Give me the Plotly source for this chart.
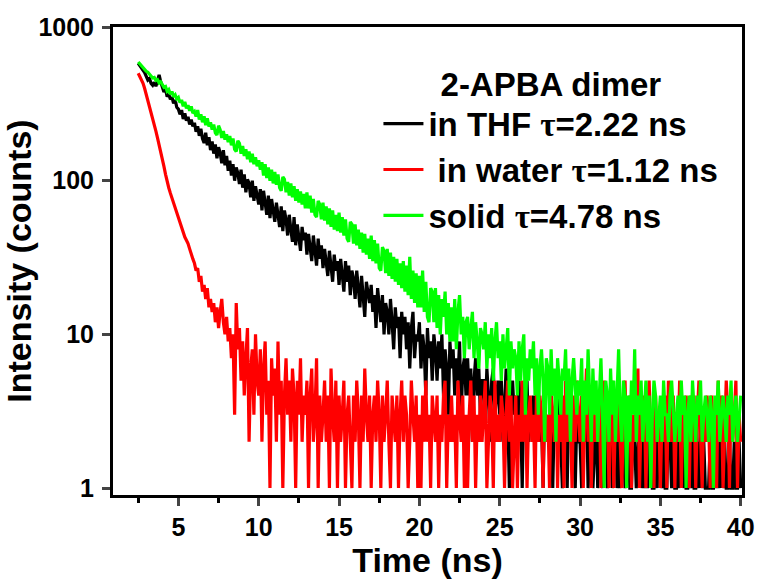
import plotly.graph_objects as go

# Time axis: channel start and width (ns)
t_start = 2.5
t_step = 0.1

# Photon counts (one value per 0.1 ns channel, from 2.5 ns to 40 ns)
thf_counts = [
    580, 562, 548, 522, 505,
    478, 452, 462, 430, 418, 436, 412, 445, 488, 440,
    402, 378, 392, 352, 366, 338, 350, 318, 336, 300,
    292, 270, 288, 252, 274, 246, 260, 232, 250, 226,
    238, 208, 226, 196, 218, 188, 176, 205, 170, 192,
    158, 180, 150, 172, 140, 165, 152, 130, 158, 126,
    145, 116, 135, 108, 128, 100, 122, 112, 95, 118,
    90, 110, 84, 102, 96, 78, 100, 74, 92, 82,
    70, 88, 64, 86, 72, 60, 80, 57, 76, 66,
    54, 72, 60, 50, 68, 47, 64, 56, 44, 60,
    48, 40, 58, 38, 52, 44, 35, 50, 41, 46,
    33, 45, 38, 30, 44, 34, 28, 42, 31, 38,
    27, 36, 30, 24, 35, 28, 22, 33, 26, 30,
    21, 31, 25, 19, 30, 22, 28, 18, 26, 23,
    17, 26, 20, 15, 24, 18, 13, 22, 19, 16,
    21, 14, 18, 11, 20, 15, 12, 18, 10, 16,
    14, 10, 17, 12, 8, 15, 11, 13, 7, 14,
    10, 13, 8, 12, 6, 11, 14, 7, 10, 9,
    12, 6, 10, 8, 4, 11, 7, 9, 5, 10,
    8, 5, 9, 6, 10, 4, 8, 6, 3, 9,
    6, 8, 4, 7, 5, 9, 3, 6, 7, 4,
    7, 4, 6, 2, 5, 7, 4, 6, 3, 5,
    5, 3, 6, 4, 2, 5, 6, 3, 4, 5,
    3, 5, 2, 4, 6, 3, 1, 4, 5, 3,
    4, 2, 5, 3, 1, 4, 3, 5, 2, 3,
    3, 4, 2, 3, 5, 2, 3, 1, 4, 2,
    3, 2, 4, 1, 3, 2, 3, 4, 2, 1,
    2, 3, 1, 4, 2, 3, 2, 1, 3, 2,
    2, 1, 3, 2, 4, 1, 2, 3, 1, 2,
    3, 1, 2, 2, 1, 3, 2, 1, 2, 4,
    1, 2, 3, 1, 2, 1, 3, 2, 1, 2,
    2, 1, 1, 3, 2, 1, 2, 3, 1, 2,
    1, 2, 1, 2, 3, 1, 1, 2, 1, 3,
    2, 1, 2, 1, 1, 3, 2, 1, 2, 1,
    1, 2, 1, 3, 1, 2, 1, 1, 2, 1,
    2, 1, 1, 2, 1, 3, 1, 2, 1, 1,
    1, 2, 1, 1, 2, 1, 2, 1, 3, 1,
    2, 1, 1, 2, 1, 1, 2, 1, 1, 2,
    1,
]

water_counts = [
    500, 478, 452, 430, 398,
    365, 335, 305, 280, 255, 232, 210, 190, 172, 156,
    140, 124, 110, 98, 90, 83, 77, 71, 66, 61,
    57, 53, 49, 46, 43, 41, 39, 36, 33, 31,
    29, 26, 27, 22, 24, 19, 21, 17, 20, 15,
    17, 14, 16, 12, 15, 11, 14, 17, 12, 10,
    13, 9, 11, 7, 10, 3, 16, 8, 11, 5,
    9, 4, 7, 11, 2, 6, 8, 3, 10, 5,
    4, 8, 2, 6, 9, 3, 5, 1, 7, 4,
    6, 2, 9, 3, 5, 1, 4, 7, 3, 5,
    2, 6, 4, 1, 5, 3, 7, 2, 4, 3,
    5, 1, 4, 6, 2, 3, 7, 1, 4, 2,
    3, 5, 2, 4, 1, 6, 3, 2, 5, 1,
    4, 2, 3, 5, 1, 3, 4, 2, 1, 4,
    2, 5, 3, 1, 4, 2, 6, 3, 2, 4,
    1, 3, 4, 2, 5, 3, 1, 4, 2, 3,
    5, 2, 1, 4, 3, 2, 4, 1, 3, 5,
    2, 4, 3, 1, 2, 5, 3, 2, 4, 1,
    3, 1, 4, 2, 5, 2, 3, 1, 4, 3,
    2, 4, 1, 3, 2, 4, 5, 1, 3, 2,
    4, 2, 3, 1, 5, 3, 2, 4, 1, 3,
    1, 3, 5, 2, 4, 1, 3, 2, 4, 2,
    3, 5, 1, 2, 4, 3, 1, 5, 2, 3,
    2, 4, 3, 1, 3, 5, 2, 4, 1, 2,
    4, 1, 3, 2, 5, 2, 4, 1, 3, 4,
    2, 3, 1, 5, 2, 4, 3, 1, 4, 2,
    3, 1, 4, 3, 2, 5, 1, 3, 2, 4,
    1, 5, 2, 4, 3, 1, 4, 2, 5, 3,
    2, 4, 1, 3, 6, 2, 3, 1, 4, 2,
    3, 2, 4, 1, 3, 5, 2, 4, 1, 3,
    5, 1, 3, 2, 4, 2, 1, 3, 5, 2,
    2, 4, 1, 3, 2, 4, 6, 1, 3, 2,
    4, 1, 3, 5, 2, 3, 1, 4, 2, 3,
    1, 3, 2, 4, 1, 5, 3, 2, 4, 1,
    3, 2, 5, 1, 3, 2, 4, 3, 1, 4,
    2, 4, 1, 3, 5, 2, 1, 3, 2, 4,
    3, 1, 4, 2, 3, 1, 5, 2, 4, 1,
    2, 5, 3, 1, 4, 2, 3, 5, 1, 3,
    2,
]

solid_counts = [
    592, 575, 552, 545, 528,
    515, 508, 492, 485, 466, 470, 450, 455, 432, 440,
    418, 405, 410, 382, 392, 365, 380, 352, 362, 340,
    348, 322, 335, 305, 325, 296, 310, 285, 305, 275,
    282, 262, 288, 250, 270, 240, 262, 230, 255, 225,
    240, 215, 232, 205, 198, 228, 215, 190, 210, 185,
    200, 178, 195, 170, 188, 160, 155, 182, 175, 150,
    168, 145, 160, 138, 155, 132, 150, 128, 142, 124,
    136, 118, 132, 108, 128, 104, 122, 100, 118, 96,
    114, 94, 110, 90, 86, 106, 102, 84, 98, 80,
    96, 78, 92, 74, 88, 72, 85, 70, 82, 66,
    84, 66, 80, 62, 76, 60, 58, 74, 70, 56,
    72, 55, 68, 52, 66, 50, 64, 48, 60, 47,
    62, 46, 58, 44, 56, 42, 40, 54, 52, 39,
    52, 38, 48, 36, 46, 34, 45, 33, 42, 31,
    44, 30, 41, 29, 39, 27, 26, 37, 35, 25,
    36, 24, 34, 23, 32, 22, 31, 21, 29, 20,
    30, 19, 28, 18, 32, 17, 26, 16, 25, 15,
    24, 15, 26, 14, 22, 13, 12, 20, 19, 12,
    20, 11, 18, 10, 17, 13, 19, 10, 16, 9,
    15, 9, 17, 8, 14, 18, 10, 13, 7, 12,
    13, 8, 11, 14, 7, 12, 9, 6, 11, 10,
    8, 12, 6, 10, 7, 11, 5, 9, 12, 7,
    9, 5, 10, 6, 8, 11, 4, 9, 6, 8,
    7, 4, 9, 5, 8, 10, 3, 7, 5, 8,
    6, 9, 4, 7, 3, 6, 8, 5, 2, 7,
    6, 3, 8, 4, 6, 2, 7, 5, 3, 6,
    5, 8, 3, 6, 2, 5, 7, 4, 3, 5,
    4, 7, 2, 5, 3, 8, 4, 2, 6, 3,
    5, 2, 4, 7, 3, 1, 5, 4, 2, 6,
    3, 5, 2, 4, 8, 3, 2, 5, 4, 1,
    4, 2, 5, 3, 8, 2, 4, 3, 5, 2,
    3, 5, 2, 4, 1, 3, 5, 4, 2, 3,
    4, 2, 5, 3, 3, 2, 4, 5, 3, 2,
    3, 4, 2, 5, 3, 4, 1, 3, 4, 2,
    5, 3, 2, 4, 3, 5, 2, 3, 4, 3,
    2, 4, 3, 1, 4, 3, 5, 2, 3, 4,
    3, 2, 4, 3, 5, 2, 3, 4, 2, 3,
    4,
]

TAU = "<span style='font-family:Liberation Serif, Times New Roman, serif'>τ</span>"
series_names = [
    "in THF " + TAU + "=2.22 ns",
    " in water " + TAU + "=1.12 ns",
    "solid " + TAU + "=4.78 ns",
]
series_colors = ["#000000", "#FF0000", "#00FF00"]
series_data = [thf_counts, water_counts, solid_counts]

x_ticks = [5, 10, 15, 20, 25, 30, 35, 40]
x_minor_ticks = [2.5, 7.5, 12.5, 17.5, 22.5, 27.5, 32.5, 37.5]
y_ticks = [1, 10, 100, 1000]
y_tick_labels = ["1", "10", "100", "1000"]

FONT = "Liberation Sans, Arial, sans-serif"

fig = go.Figure()
for name, color, counts in zip(series_names, series_colors, series_data):
    times = [round(t_start + t_step * i, 3) for i in range(len(counts))]
    fig.add_trace(go.Scatter(
        x=times, y=counts, mode="lines", name=name,
        line=dict(color=color, width=3.2),
    ))

fig.update_layout(
    width=767, height=583,
    margin=dict(l=113, r=19, t=27, b=86),
    paper_bgcolor="white", plot_bgcolor="white",
    font=dict(family=FONT, color="black", size=25, weight="bold"),
    legend=dict(
        title=dict(text="2-APBA dimer", side="top center",
                   font=dict(family=FONT, size=33, weight="bold")),
        font=dict(family=FONT, size=33, weight="bold"),
        x=0.422, y=0.945, xanchor="left", yanchor="top",
        bgcolor="rgba(0,0,0,0)", borderwidth=0,
        tracegroupgap=0, itemwidth=40,
    ),
    xaxis=dict(
        range=[0.93, 40.08],
        tickmode="array", tickvals=x_ticks,
        ticks="outside", ticklen=8, tickwidth=3,
        showline=True, linewidth=3, linecolor="black", mirror=True,
        showgrid=False, zeroline=False,
        tickfont=dict(family=FONT, size=25, weight="bold"),
        minor=dict(tickvals=x_minor_ticks,
                   ticks="outside", ticklen=5, tickwidth=3, tickcolor="black"),
        title=dict(text="Time (ns)", standoff=6,
                   font=dict(family=FONT, size=34, weight="bold")),
    ),
    yaxis=dict(
        type="log", range=[-0.045, 3.0],
        tickmode="array", tickvals=y_ticks, ticktext=y_tick_labels,
        ticks="outside", ticklen=8, tickwidth=3, ticklabelstandoff=3,
        showline=True, linewidth=3, linecolor="black", mirror=True,
        showgrid=False, zeroline=False,
        tickfont=dict(family=FONT, size=25, weight="bold"),
        title=dict(text="Intensity (counts)", standoff=1,
                   font=dict(family=FONT, size=34, weight="bold")),
    ),
)

fig.write_html("out.html", config={"displayModeBar": False},
               post_script="document.body.style.margin='0px';")
